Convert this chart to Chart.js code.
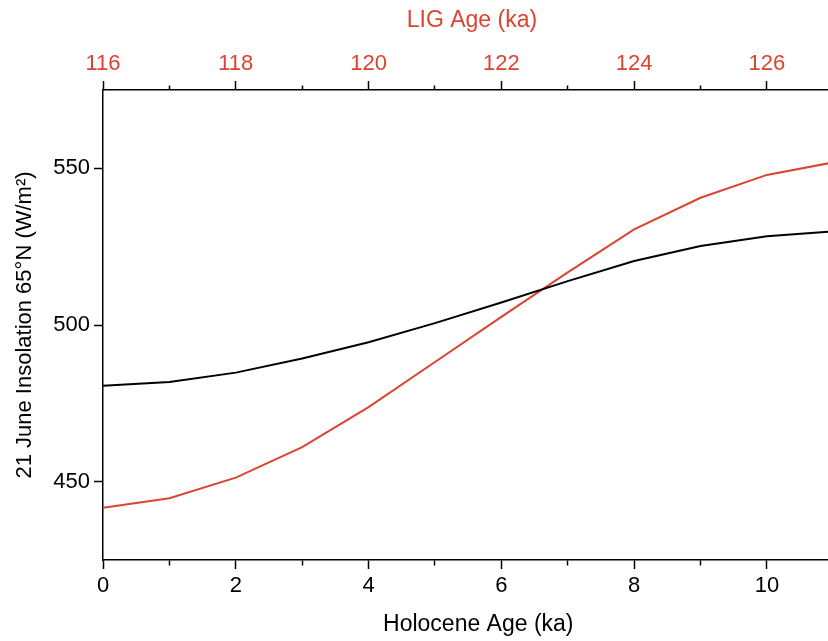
<!DOCTYPE html>
<html>
<head>
<meta charset="utf-8">
<script src="https://cdn.jsdelivr.net/npm/chart.js@4/dist/chart.umd.min.js"></script>
<style>
  html, body { margin: 0; padding: 0; background: #fff; }
  #chart { display: block; }
</style>
</head>
<body>
<canvas id="chart" width="828" height="641"></canvas>
<script>
// values
const holoceneAge = [0, 1, 2, 3, 4, 5, 6, 7, 8, 9, 10, 11];
const holoceneInsolation = [480.6, 481.8, 484.8, 489.3, 494.5, 500.6, 507.2, 514.0, 520.4, 525.2, 528.3, 529.9];
const ligAge = [116, 117, 118, 119, 120, 121, 122, 123, 124, 125, 126, 127];
const ligInsolation = [441.7, 444.7, 451.3, 461.0, 473.8, 488.2, 502.6, 516.8, 530.5, 540.6, 547.9, 551.9];

const holoceneTicks = [0, 1, 2, 3, 4, 5, 6, 7, 8, 9, 10];
const ligTicks = [116, 117, 118, 119, 120, 121, 122, 123, 124, 125, 126];
const yTicks = [450, 500, 550];

const X_MIN = 0, X_MAX = 10.92;
const Y_MIN = 425, Y_MAX = 575;
const RED = '#dc4330';
const FONT = "'Liberation Sans', Arial, Helvetica, sans-serif";

function isMajor(v) { return Math.round(v) % 2 === 0; }

let ctx = document.getElementById('chart').getContext('2d');
let chart = new Chart(ctx, {
    type: 'line',
    data: {
        datasets: [{
            label: 'Holocene',
            data: holoceneAge.map((a, i) => ({ x: a, y: holoceneInsolation[i] })),
            borderColor: '#000',
            borderWidth: 2,
            pointRadius: 0,
            tension: 0,
            xAxisID: 'x',
            yAxisID: 'y'
        }, {
            label: 'LIG',
            data: ligAge.map((a, i) => ({ x: a, y: ligInsolation[i] })),
            borderColor: RED,
            borderWidth: 2,
            pointRadius: 0,
            tension: 0,
            xAxisID: 'x2',
            yAxisID: 'y'
        }]
    },
    options: {
        responsive: false,
        animation: false,
        layout: { padding: 0 },
        plugins: { legend: { display: false }, tooltip: { enabled: false } },
        scales: {
            x: {
                type: 'linear',
                position: 'bottom',
                min: X_MIN,
                max: X_MAX,
                afterBuildTicks: s => { s.ticks = holoceneTicks.map(v => ({ value: v })); },
                afterFit: s => { s.height = 81; },
                ticks: {
                    color: '#000',
                    font: { family: FONT, size: 22 },
                    padding: 4,
                    maxRotation: 0,
                    autoSkip: false,
                    callback: v => isMajor(v) ? String(v) : ''
                },
                grid: {
                    drawOnChartArea: false,
                    drawTicks: true,
                    tickLength: 9,
                    tickColor: '#000',
                    tickWidth: 1.5,
                    tickBorderDash: c => isMajor(c.tick.value) ? [] : [5, 100]
                },
                border: { display: true, color: '#000', width: 1.5 },
                title: {
                    display: true,
                    text: '    Holocene Age (ka)',
                    color: '#000',
                    font: { family: FONT, size: 23 },
                    padding: { top: 0, bottom: 3 }
                }
            },
            x2: {
                type: 'linear',
                position: 'top',
                min: ligAge[0] + X_MIN,
                max: ligAge[0] + X_MAX,
                afterBuildTicks: s => { s.ticks = ligTicks.map(v => ({ value: v })); },
                afterFit: s => { s.height = 90; },
                ticks: {
                    color: RED,
                    font: { family: FONT, size: 22 },
                    padding: 4,
                    maxRotation: 0,
                    autoSkip: false,
                    callback: v => isMajor(v) ? String(v) : ''
                },
                grid: {
                    drawOnChartArea: false,
                    drawTicks: true,
                    tickLength: 9,
                    tickColor: '#000',
                    tickWidth: 1.5,
                    tickBorderDash: c => isMajor(c.tick.value) ? [] : [0, 4.5, 5, 100]
                },
                border: { display: true, color: '#000', width: 1.5 },
                title: {
                    display: true,
                    text: '  LIG Age (ka)',
                    color: RED,
                    font: { family: FONT, size: 23 },
                    padding: { top: 7, bottom: 0 }
                }
            },
            y: {
                type: 'linear',
                position: 'left',
                min: Y_MIN,
                max: Y_MAX,
                afterBuildTicks: s => { s.ticks = yTicks.map(v => ({ value: v })); },
                afterFit: s => { s.width = 103; },
                ticks: {
                    color: '#000',
                    font: { family: FONT, size: 22 },
                    padding: 4
                },
                grid: {
                    drawOnChartArea: false,
                    drawTicks: true,
                    tickLength: 9,
                    tickColor: '#000',
                    tickWidth: 1.5
                },
                border: { display: true, color: '#000', width: 1.5 },
                title: {
                    display: true,
                    text: '21 June Insolation 65°N (W/m²)',
                    color: '#000',
                    font: { family: FONT, size: 22 },
                    padding: { top: 12, bottom: 0 }
                }
            }
        }
    }
});
</script>
</body>
</html>
